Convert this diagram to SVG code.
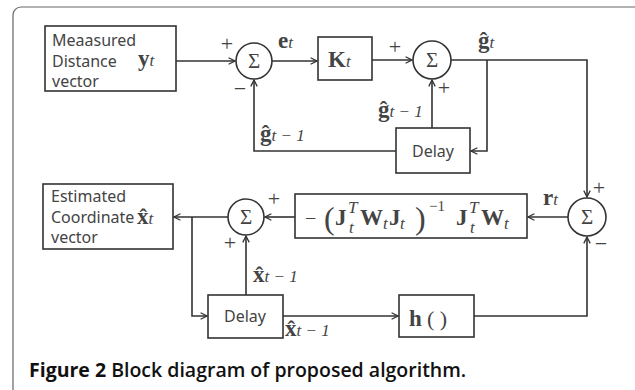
<svg xmlns="http://www.w3.org/2000/svg" width="635" height="390" viewBox="0 0 635 390">
<defs>
<marker id="ah" viewBox="0 0 10 10" refX="9" refY="5" markerWidth="8" markerHeight="8" orient="auto" markerUnits="userSpaceOnUse">
<path d="M1,1 L9,5 L1,9" fill="none" stroke="#333" stroke-width="1.6"/>
</marker>
<style>
.ln{fill:none;stroke:#333;stroke-width:1.6;}
.bx{fill:#fff;stroke:#333;stroke-width:1.6;}
.sn{font-family:"Noto Sans","Open Sans",sans-serif;font-size:16px;fill:#444;}
.m{font-family:"Liberation Serif","Times New Roman",serif;fill:#444;}
.mb{font-family:"Liberation Serif","Times New Roman",serif;font-weight:bold;fill:#444;font-size:23px;}
.mi{font-family:"Liberation Serif","Times New Roman",serif;font-style:italic;font-weight:normal;fill:#444;font-size:17px;}
.sg{font-family:"Liberation Serif","Times New Roman",serif;font-size:21px;fill:#444;text-anchor:middle;}
.pm{font-family:"Liberation Serif","Times New Roman",serif;font-size:22px;fill:#444;text-anchor:middle;}
.cap{font-family:"Open Sans","Noto Sans",sans-serif;font-weight:bold;font-size:19.5px;fill:#111;}
</style>
</defs>
<rect x="13" y="7" width="630" height="420" rx="8" fill="none" stroke="#666" stroke-width="1.2"/>

<g id="connectors">
<path class="ln" d="M176,61 H235" marker-end="url(#ah)"/>
<path class="ln" d="M272,61 H317" marker-end="url(#ah)"/>
<path class="ln" d="M372,60 H412" marker-end="url(#ah)"/>
<path class="ln" d="M451,60 H587 V197" marker-end="url(#ah)"/>
<path class="ln" d="M487,60 V151 H471" marker-end="url(#ah)"/>
<path class="ln" d="M432,128 V80" marker-end="url(#ah)"/>
<path class="ln" d="M396,151 H254 V80" marker-end="url(#ah)"/>
<path class="ln" d="M568,217 H528" marker-end="url(#ah)"/>
<path class="ln" d="M295,217 H265" marker-end="url(#ah)"/>
<path class="ln" d="M228,217 H174" marker-end="url(#ah)"/>
<path class="ln" d="M192,217 V316 H207" marker-end="url(#ah)"/>
<path class="ln" d="M246,295 V236" marker-end="url(#ah)"/>
<path class="ln" d="M283,316 H398" marker-end="url(#ah)"/>
<path class="ln" d="M474,316 H587 V237" marker-end="url(#ah)"/>
</g>

<g id="labels">
<text class="pm" x="227" y="51">+</text>
<text class="pm" x="240" y="96">−</text>
<text class="mb" x="278" y="48">e<tspan class="mi">t</tspan></text>
<text class="pm" x="395" y="54">+</text>
<text class="pm" x="444" y="95">+</text>
<text class="mb" x="478" y="48">ĝ<tspan class="mi">t</tspan></text>
<text class="mb" x="378" y="117">ĝ<tspan class="mi">t − 1</tspan></text>
<text class="mb" x="260" y="141">ĝ<tspan class="mi">t − 1</tspan></text>
<text class="pm" x="599" y="195">+</text>
<text class="pm" x="601" y="251">−</text>
<text class="mb" x="543" y="205">r<tspan class="mi">t</tspan></text>
<text class="pm" x="274" y="206">+</text>
<text class="pm" x="230" y="250">+</text>
<text class="mb" x="253" y="282">x̂<tspan class="mi">t − 1</tspan></text>
<text class="mb" x="285" y="336">x̂<tspan class="mi">t − 1</tspan></text>
</g>

<g id="measured">
<rect class="bx" x="45" y="26" width="131" height="65"/>
<text class="sn" x="52" y="46">Meaasured</text>
<text class="sn" x="52" y="67">Distance</text>
<text class="sn" x="52" y="87">vector</text>
<text class="mb" x="138" y="66">y<tspan class="mi">t</tspan></text>
</g>

<g id="sum1">
<circle class="bx" cx="254" cy="61" r="18"/>
<text class="sg" x="254" y="68">Σ</text>
</g>

<g id="gain">
<rect class="bx" x="318" y="37" width="54" height="43"/>
<text class="mb" x="328" y="67">K<tspan class="mi">t</tspan></text>
</g>

<g id="sum2">
<circle class="bx" cx="432" cy="60" r="19"/>
<text class="sg" x="432" y="67">Σ</text>
</g>

<g id="delay1">
<rect class="bx" x="396" y="128" width="74" height="45"/>
<text class="sn" x="433" y="157" text-anchor="middle">Delay</text>
</g>

<g id="sum4">
<circle class="bx" cx="587" cy="217" r="19"/>
<text class="sg" x="587" y="224">Σ</text>
</g>

<g id="update">
<rect class="bx" x="295" y="194" width="232" height="44"/>
<text class="m" x="305" y="225" font-size="20">−</text>
<text class="m" x="324" y="229" font-size="32">(</text>
<text class="mb" x="335" y="225" font-size="20">J</text>
<text class="mi" x="348" y="213" font-size="12">T</text>
<text class="mi" x="349" y="233" font-size="12">t</text>
<text class="mb" x="360" y="225" font-size="20">W</text>
<text class="mi" x="383" y="229" font-size="12">t</text>
<text class="mb" x="389" y="225" font-size="20">J</text>
<text class="mi" x="400" y="229" font-size="12">t</text>
<text class="m" x="415" y="229" font-size="32">)</text>
<text class="m" x="429" y="211" font-size="15">−1</text>
<text class="mb" x="456" y="225" font-size="20">J</text>
<text class="mi" x="469" y="213" font-size="12">T</text>
<text class="mi" x="470" y="233" font-size="12">t</text>
<text class="mb" x="481" y="225" font-size="20">W</text>
<text class="mi" x="504" y="229" font-size="12">t</text>
</g>

<g id="sum3">
<circle class="bx" cx="246" cy="217" r="18"/>
<text class="sg" x="246" y="224">Σ</text>
</g>

<g id="estimated">
<rect class="bx" x="43" y="184" width="130" height="65"/>
<text class="sn" x="51" y="202">Estimated</text>
<text class="sn" x="51" y="223">Coordinate</text>
<text class="sn" x="51" y="243">vector</text>
<text class="mb" x="137" y="224">x̂<tspan class="mi">t</tspan></text>
</g>

<g id="delay2">
<rect class="bx" x="208" y="295" width="75" height="43"/>
<text class="sn" x="245" y="322" text-anchor="middle">Delay</text>
</g>

<g id="hfunc">
<rect class="bx" x="399" y="295" width="75" height="42"/>
<text class="mb" x="409" y="326" font-size="26">h</text>
<text class="m" x="427" y="326" font-size="22" fill="#555">( )</text>
</g>

<text class="cap" x="29" y="377">Figure 2 <tspan font-weight="600">Block diagram of proposed algorithm.</tspan></text>
</svg>
